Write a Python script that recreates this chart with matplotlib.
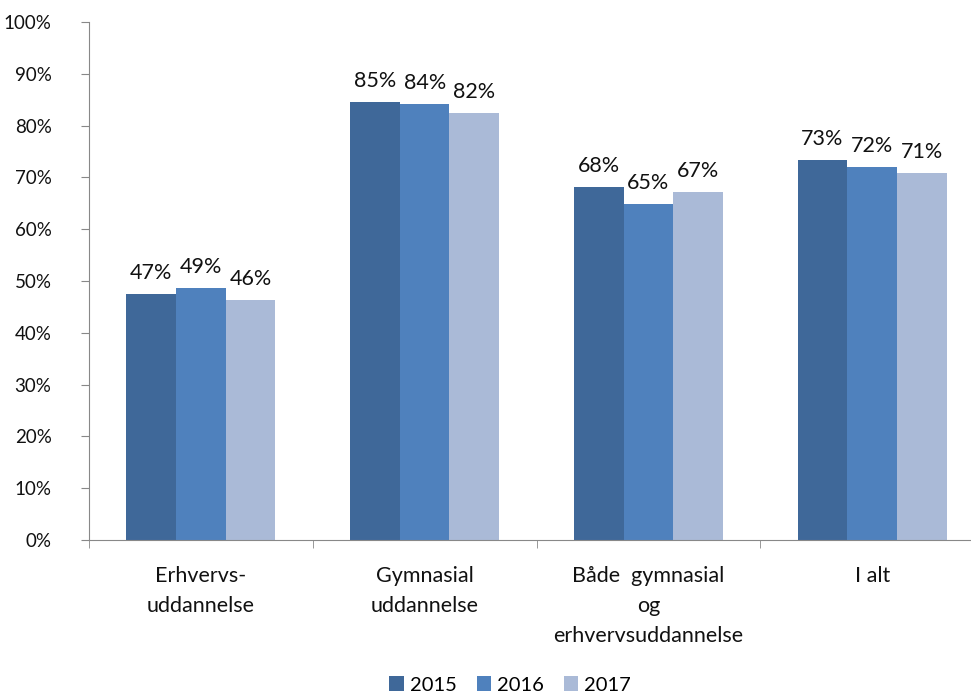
import matplotlib
matplotlib.use("Agg")
import matplotlib.pyplot as plt
import numpy as np

categories = ["Erhvervs-\nuddannelse", "Gymnasial\nuddannelse", "Både  gymnasial\nog\nerhvervsuddannelse", "I alt"]
years = ["2015", "2016", "2017"]
v2015 = [47.5, 84.5, 68.2, 73.3]
v2016 = [48.7, 84.1, 64.8, 72.0]
v2017 = [46.3, 82.4, 67.1, 70.8]
labels2015 = ["47%", "85%", "68%", "73%"]
labels2016 = ["49%", "84%", "65%", "72%"]
labels2017 = ["46%", "82%", "67%", "71%"]

colors = ["#3F6899", "#4F81BD", "#AABAD7"]
plt.rcParams['font.family'] = ['Lato', 'DejaVu Sans']

fig = plt.figure(figsize=(9.71, 6.94), dpi=100)
ax = fig.add_axes([89/971, 1-540/694, (984-89)/971, (540-22)/694])

x = np.arange(len(categories))
w = 0.222
series = [v2015, v2016, v2017]
lbls = [labels2015, labels2016, labels2017]
for i, (vals, lab) in enumerate(zip(series, lbls)):
    bars = ax.bar(x + (i-1)*w, vals, width=w, color=colors[i], label=years[i], zorder=2)
    for b, t in zip(bars, lab):
        ax.annotate(t, (b.get_x()+b.get_width()/2, b.get_height()), xytext=(0, 8),
                    textcoords="offset points", ha="center", va="bottom", fontsize=15.5, color="#111111")

ax.set_xlim(-0.5, 3.5)
ax.set_ylim(0, 100)
ax.set_yticks(np.arange(0, 101, 10))
ax.set_yticklabels([f"{v}%" for v in range(0, 101, 10)], fontsize=13.5, color="#111111")
ax.set_xticks(x)
ax.set_xticklabels(categories, fontsize=15.5, color="#111111", linespacing=1.6, va="top")
ax.set_xticks(np.arange(-0.5, 3.6, 1), minor=True)
ax.tick_params(axis="x", which="major", length=0, pad=19)
ax.tick_params(axis="x", which="minor", length=6, color="#888888", direction="out")
ax.tick_params(axis="y", length=6, color="#888888", pad=21)
for s in ["top", "right"]:
    ax.spines[s].set_visible(False)
for s in ["left", "bottom"]:
    ax.spines[s].set_color("#888888")

fig.legend(loc="center", bbox_to_anchor=(510/971, 1-685/694), ncol=3, frameon=False,
           fontsize=14.5, handlelength=0.7, handleheight=0.7, handletextpad=0.3, columnspacing=1.0)

fig.savefig("out.png", dpi=100)
